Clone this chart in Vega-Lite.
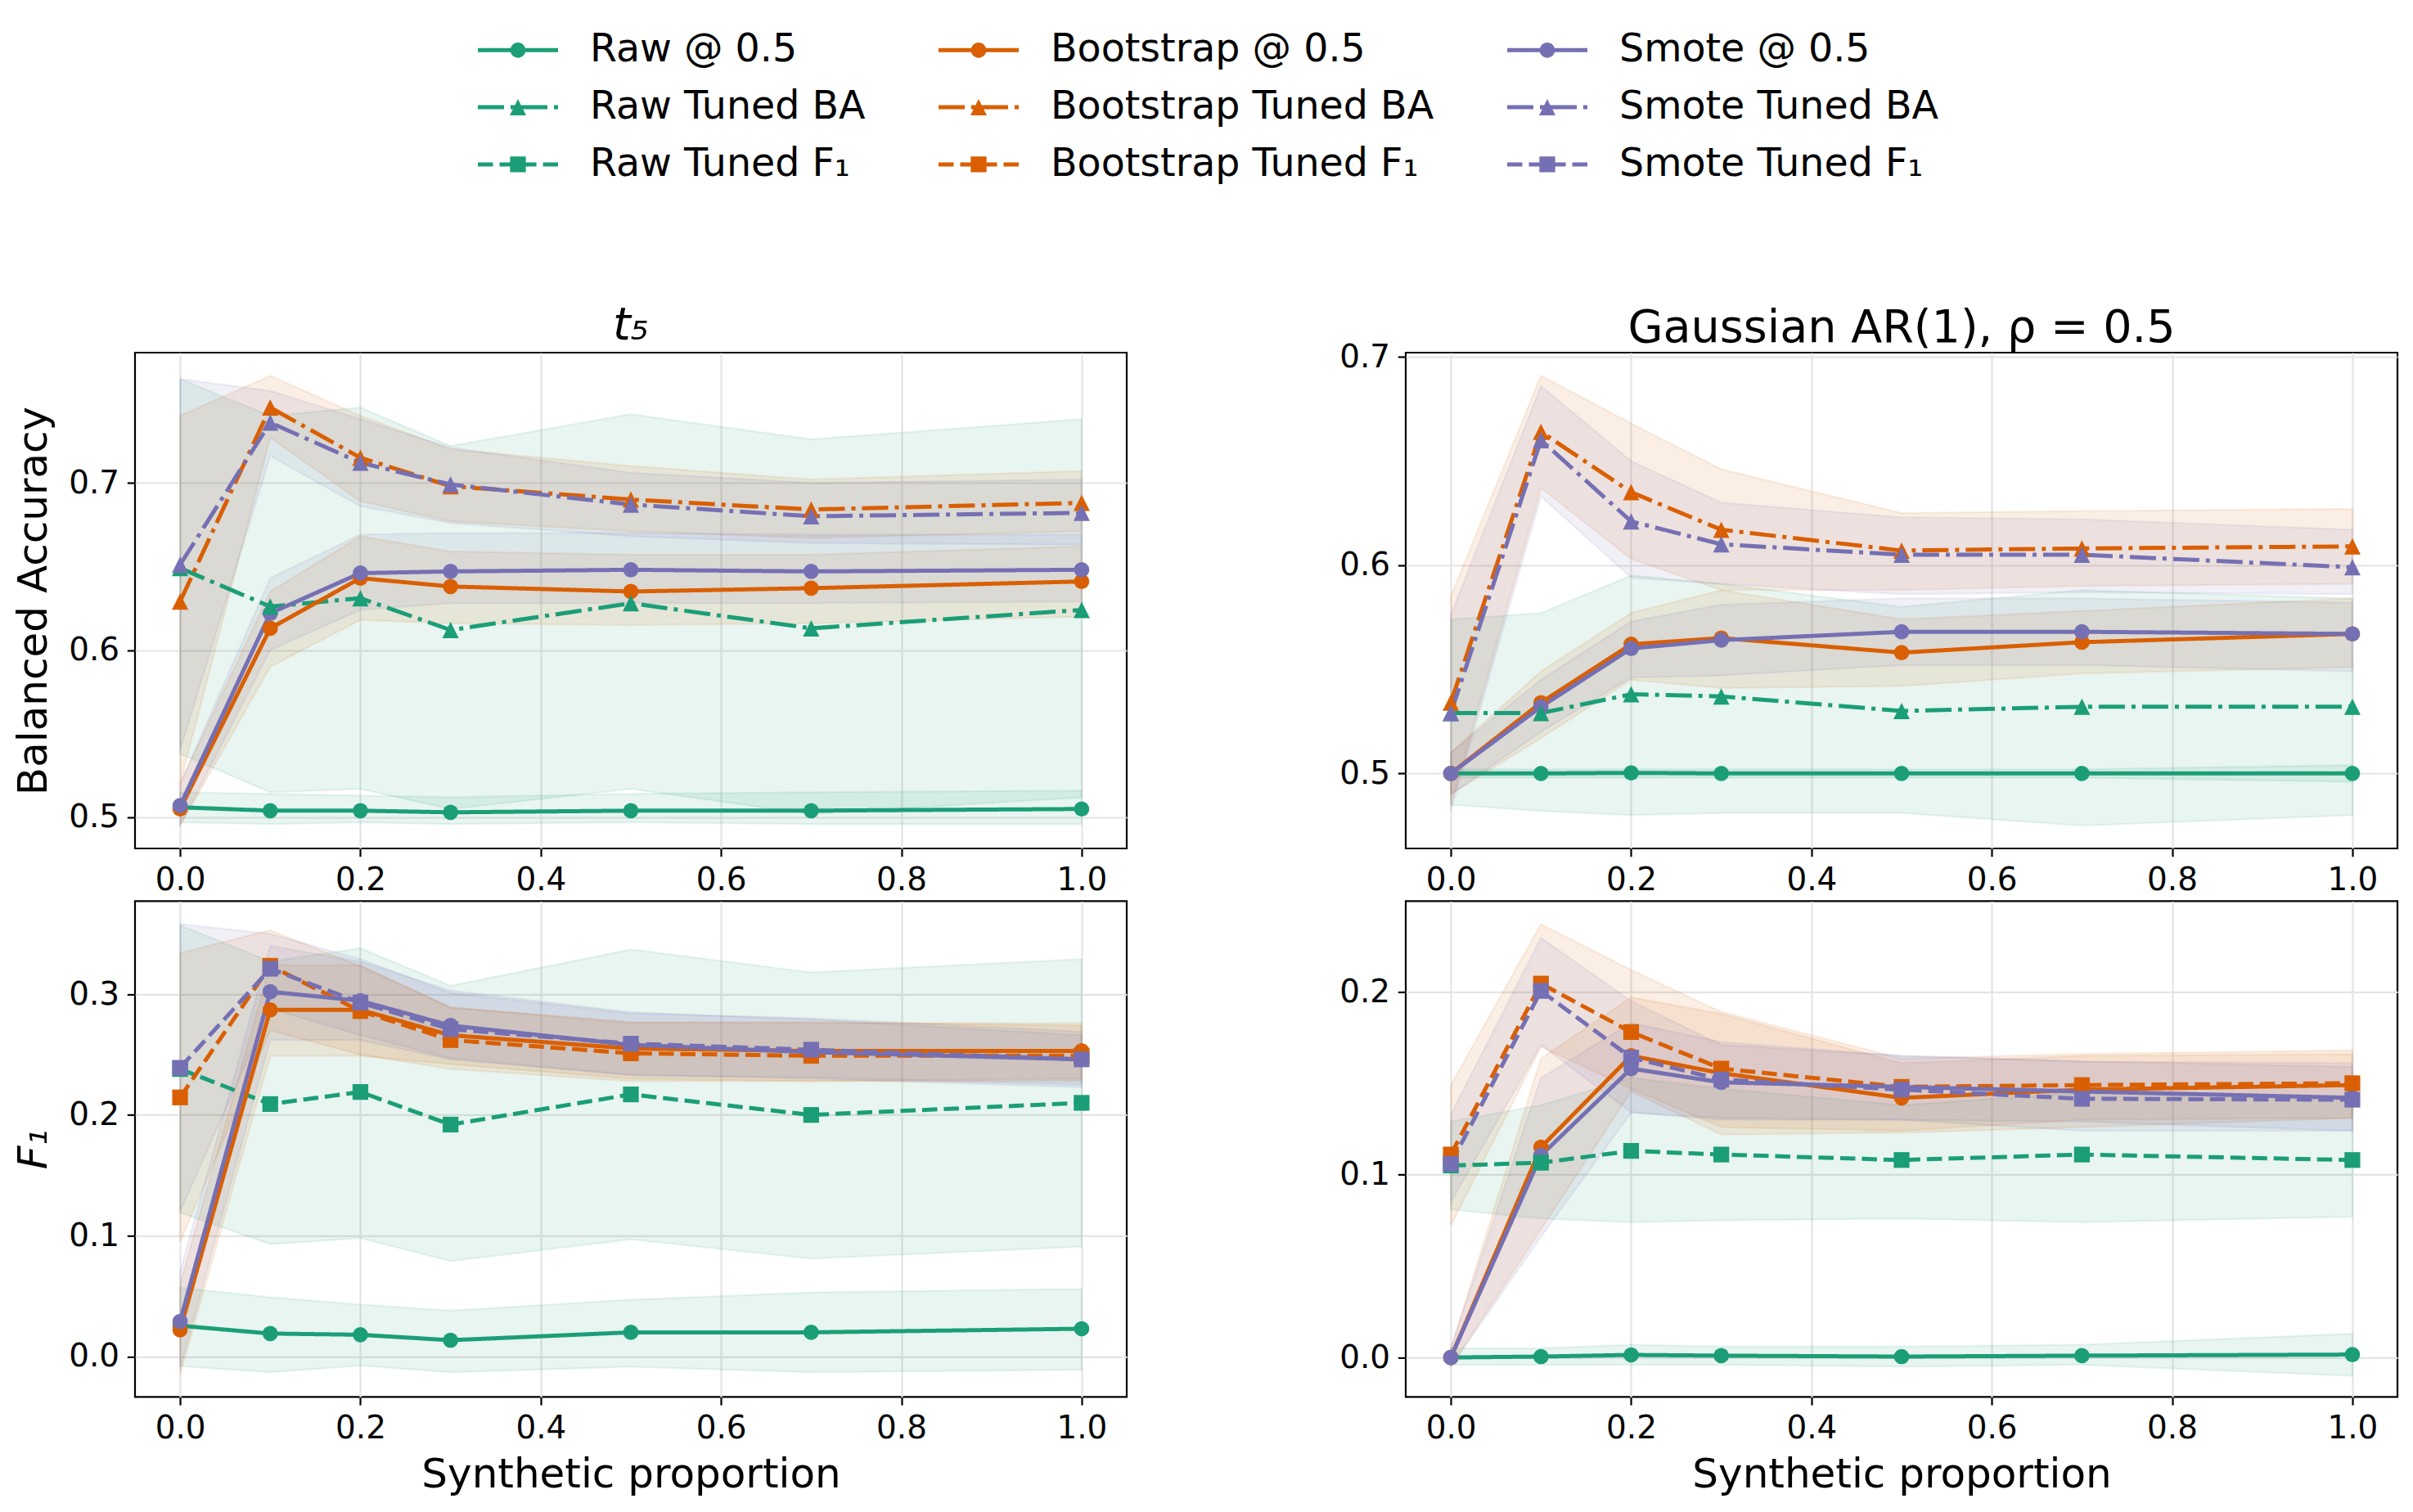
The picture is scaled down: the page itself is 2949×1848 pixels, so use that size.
{
"$schema":"https://vega.github.io/schema/vega-lite/v6.json",
"background":"white",
"padding":{"left":15,"top":26,"right":18,"bottom":12},
"datasets":{"d":[
{"p":"A","me":"Raw","v":"@ 0.5","x":0,"m":0.506,"lo":0.497,"hi":0.515},
{"p":"A","me":"Raw","v":"@ 0.5","x":0.1,"m":0.504,"lo":0.496,"hi":0.514},
{"p":"A","me":"Raw","v":"@ 0.5","x":0.2,"m":0.504,"lo":0.497,"hi":0.513},
{"p":"A","me":"Raw","v":"@ 0.5","x":0.3,"m":0.503,"lo":0.496,"hi":0.512},
{"p":"A","me":"Raw","v":"@ 0.5","x":0.5,"m":0.504,"lo":0.497,"hi":0.514},
{"p":"A","me":"Raw","v":"@ 0.5","x":0.7,"m":0.504,"lo":0.496,"hi":0.515},
{"p":"A","me":"Raw","v":"@ 0.5","x":1,"m":0.505,"lo":0.496,"hi":0.516},
{"p":"A","me":"Raw","v":"Tuned BA","x":0,"m":0.649,"lo":0.538,"hi":0.762},
{"p":"A","me":"Raw","v":"Tuned BA","x":0.1,"m":0.626,"lo":0.515,"hi":0.740},
{"p":"A","me":"Raw","v":"Tuned BA","x":0.2,"m":0.631,"lo":0.517,"hi":0.745},
{"p":"A","me":"Raw","v":"Tuned BA","x":0.3,"m":0.612,"lo":0.505,"hi":0.722},
{"p":"A","me":"Raw","v":"Tuned BA","x":0.5,"m":0.628,"lo":0.517,"hi":0.741},
{"p":"A","me":"Raw","v":"Tuned BA","x":0.7,"m":0.613,"lo":0.502,"hi":0.726},
{"p":"A","me":"Raw","v":"Tuned BA","x":1,"m":0.624,"lo":0.512,"hi":0.738},
{"p":"A","me":"Bootstrap","v":"@ 0.5","x":0,"m":0.505,"lo":0.495,"hi":0.520},
{"p":"A","me":"Bootstrap","v":"@ 0.5","x":0.1,"m":0.613,"lo":0.590,"hi":0.635},
{"p":"A","me":"Bootstrap","v":"@ 0.5","x":0.2,"m":0.643,"lo":0.618,"hi":0.668},
{"p":"A","me":"Bootstrap","v":"@ 0.5","x":0.3,"m":0.638,"lo":0.616,"hi":0.659},
{"p":"A","me":"Bootstrap","v":"@ 0.5","x":0.5,"m":0.635,"lo":0.615,"hi":0.657},
{"p":"A","me":"Bootstrap","v":"@ 0.5","x":0.7,"m":0.637,"lo":0.616,"hi":0.657},
{"p":"A","me":"Bootstrap","v":"@ 0.5","x":1,"m":0.641,"lo":0.620,"hi":0.662},
{"p":"A","me":"Bootstrap","v":"Tuned BA","x":0,"m":0.629,"lo":0.520,"hi":0.740},
{"p":"A","me":"Bootstrap","v":"Tuned BA","x":0.1,"m":0.745,"lo":0.727,"hi":0.764},
{"p":"A","me":"Bootstrap","v":"Tuned BA","x":0.2,"m":0.715,"lo":0.689,"hi":0.740},
{"p":"A","me":"Bootstrap","v":"Tuned BA","x":0.3,"m":0.698,"lo":0.677,"hi":0.720},
{"p":"A","me":"Bootstrap","v":"Tuned BA","x":0.5,"m":0.690,"lo":0.671,"hi":0.710},
{"p":"A","me":"Bootstrap","v":"Tuned BA","x":0.7,"m":0.684,"lo":0.667,"hi":0.702},
{"p":"A","me":"Bootstrap","v":"Tuned BA","x":1,"m":0.688,"lo":0.671,"hi":0.707},
{"p":"A","me":"Smote","v":"@ 0.5","x":0,"m":0.507,"lo":0.495,"hi":0.520},
{"p":"A","me":"Smote","v":"@ 0.5","x":0.1,"m":0.622,"lo":0.600,"hi":0.643},
{"p":"A","me":"Smote","v":"@ 0.5","x":0.2,"m":0.646,"lo":0.624,"hi":0.669},
{"p":"A","me":"Smote","v":"@ 0.5","x":0.3,"m":0.647,"lo":0.628,"hi":0.670},
{"p":"A","me":"Smote","v":"@ 0.5","x":0.5,"m":0.648,"lo":0.628,"hi":0.670},
{"p":"A","me":"Smote","v":"@ 0.5","x":0.7,"m":0.647,"lo":0.628,"hi":0.669},
{"p":"A","me":"Smote","v":"@ 0.5","x":1,"m":0.648,"lo":0.629,"hi":0.669},
{"p":"A","me":"Smote","v":"Tuned BA","x":0,"m":0.651,"lo":0.540,"hi":0.762},
{"p":"A","me":"Smote","v":"Tuned BA","x":0.1,"m":0.736,"lo":0.716,"hi":0.755},
{"p":"A","me":"Smote","v":"Tuned BA","x":0.2,"m":0.712,"lo":0.686,"hi":0.738},
{"p":"A","me":"Smote","v":"Tuned BA","x":0.3,"m":0.699,"lo":0.676,"hi":0.721},
{"p":"A","me":"Smote","v":"Tuned BA","x":0.5,"m":0.687,"lo":0.668,"hi":0.706},
{"p":"A","me":"Smote","v":"Tuned BA","x":0.7,"m":0.680,"lo":0.664,"hi":0.700},
{"p":"A","me":"Smote","v":"Tuned BA","x":1,"m":0.682,"lo":0.663,"hi":0.702},
{"p":"B","me":"Raw","v":"@ 0.5","x":0,"m":0.500,"lo":0.498,"hi":0.502},
{"p":"B","me":"Raw","v":"@ 0.5","x":0.1,"m":0.500,"lo":0.498,"hi":0.502},
{"p":"B","me":"Raw","v":"@ 0.5","x":0.2,"m":0.5003,"lo":0.498,"hi":0.502},
{"p":"B","me":"Raw","v":"@ 0.5","x":0.3,"m":0.500,"lo":0.498,"hi":0.502},
{"p":"B","me":"Raw","v":"@ 0.5","x":0.5,"m":0.500,"lo":0.498,"hi":0.502},
{"p":"B","me":"Raw","v":"@ 0.5","x":0.7,"m":0.500,"lo":0.498,"hi":0.502},
{"p":"B","me":"Raw","v":"@ 0.5","x":1,"m":0.500,"lo":0.496,"hi":0.504},
{"p":"B","me":"Raw","v":"Tuned BA","x":0,"m":0.529,"lo":0.485,"hi":0.574},
{"p":"B","me":"Raw","v":"Tuned BA","x":0.1,"m":0.529,"lo":0.482,"hi":0.577},
{"p":"B","me":"Raw","v":"Tuned BA","x":0.2,"m":0.538,"lo":0.480,"hi":0.595},
{"p":"B","me":"Raw","v":"Tuned BA","x":0.3,"m":0.537,"lo":0.481,"hi":0.591},
{"p":"B","me":"Raw","v":"Tuned BA","x":0.5,"m":0.530,"lo":0.481,"hi":0.580},
{"p":"B","me":"Raw","v":"Tuned BA","x":0.7,"m":0.532,"lo":0.475,"hi":0.588},
{"p":"B","me":"Raw","v":"Tuned BA","x":1,"m":0.532,"lo":0.480,"hi":0.584},
{"p":"B","me":"Bootstrap","v":"@ 0.5","x":0,"m":0.500,"lo":0.490,"hi":0.510},
{"p":"B","me":"Bootstrap","v":"@ 0.5","x":0.1,"m":0.534,"lo":0.517,"hi":0.549},
{"p":"B","me":"Bootstrap","v":"@ 0.5","x":0.2,"m":0.562,"lo":0.545,"hi":0.577},
{"p":"B","me":"Bootstrap","v":"@ 0.5","x":0.3,"m":0.565,"lo":0.541,"hi":0.588},
{"p":"B","me":"Bootstrap","v":"@ 0.5","x":0.5,"m":0.558,"lo":0.542,"hi":0.574},
{"p":"B","me":"Bootstrap","v":"@ 0.5","x":0.7,"m":0.563,"lo":0.548,"hi":0.578},
{"p":"B","me":"Bootstrap","v":"@ 0.5","x":1,"m":0.567,"lo":0.551,"hi":0.584},
{"p":"B","me":"Bootstrap","v":"Tuned BA","x":0,"m":0.534,"lo":0.485,"hi":0.585},
{"p":"B","me":"Bootstrap","v":"Tuned BA","x":0.1,"m":0.664,"lo":0.637,"hi":0.691},
{"p":"B","me":"Bootstrap","v":"Tuned BA","x":0.2,"m":0.635,"lo":0.603,"hi":0.668},
{"p":"B","me":"Bootstrap","v":"Tuned BA","x":0.3,"m":0.617,"lo":0.588,"hi":0.646},
{"p":"B","me":"Bootstrap","v":"Tuned BA","x":0.5,"m":0.607,"lo":0.588,"hi":0.625},
{"p":"B","me":"Bootstrap","v":"Tuned BA","x":0.7,"m":0.608,"lo":0.590,"hi":0.626},
{"p":"B","me":"Bootstrap","v":"Tuned BA","x":1,"m":0.609,"lo":0.591,"hi":0.627},
{"p":"B","me":"Smote","v":"@ 0.5","x":0,"m":0.500,"lo":0.490,"hi":0.510},
{"p":"B","me":"Smote","v":"@ 0.5","x":0.1,"m":0.532,"lo":0.520,"hi":0.545},
{"p":"B","me":"Smote","v":"@ 0.5","x":0.2,"m":0.560,"lo":0.546,"hi":0.573},
{"p":"B","me":"Smote","v":"@ 0.5","x":0.3,"m":0.564,"lo":0.547,"hi":0.581},
{"p":"B","me":"Smote","v":"@ 0.5","x":0.5,"m":0.568,"lo":0.552,"hi":0.584},
{"p":"B","me":"Smote","v":"@ 0.5","x":0.7,"m":0.568,"lo":0.552,"hi":0.584},
{"p":"B","me":"Smote","v":"@ 0.5","x":1,"m":0.567,"lo":0.549,"hi":0.582},
{"p":"B","me":"Smote","v":"Tuned BA","x":0,"m":0.529,"lo":0.482,"hi":0.576},
{"p":"B","me":"Smote","v":"Tuned BA","x":0.1,"m":0.660,"lo":0.633,"hi":0.686},
{"p":"B","me":"Smote","v":"Tuned BA","x":0.2,"m":0.621,"lo":0.594,"hi":0.650},
{"p":"B","me":"Smote","v":"Tuned BA","x":0.3,"m":0.610,"lo":0.591,"hi":0.630},
{"p":"B","me":"Smote","v":"Tuned BA","x":0.5,"m":0.605,"lo":0.586,"hi":0.623},
{"p":"B","me":"Smote","v":"Tuned BA","x":0.7,"m":0.605,"lo":0.587,"hi":0.622},
{"p":"B","me":"Smote","v":"Tuned BA","x":1,"m":0.599,"lo":0.586,"hi":0.617},
{"p":"C","me":"Raw","v":"@ 0.5","x":0,"m":0.0255,"lo":-0.008,"hi":0.057},
{"p":"C","me":"Raw","v":"@ 0.5","x":0.1,"m":0.019,"lo":-0.013,"hi":0.049},
{"p":"C","me":"Raw","v":"@ 0.5","x":0.2,"m":0.018,"lo":-0.0075,"hi":0.043},
{"p":"C","me":"Raw","v":"@ 0.5","x":0.3,"m":0.0135,"lo":-0.013,"hi":0.038},
{"p":"C","me":"Raw","v":"@ 0.5","x":0.5,"m":0.020,"lo":-0.0085,"hi":0.047},
{"p":"C","me":"Raw","v":"@ 0.5","x":0.7,"m":0.020,"lo":-0.013,"hi":0.053},
{"p":"C","me":"Raw","v":"@ 0.5","x":1,"m":0.023,"lo":-0.011,"hi":0.056},
{"p":"C","me":"Raw","v":"Tuned F₁","x":0,"m":0.238,"lo":0.119,"hi":0.357},
{"p":"C","me":"Raw","v":"Tuned F₁","x":0.1,"m":0.209,"lo":0.093,"hi":0.327},
{"p":"C","me":"Raw","v":"Tuned F₁","x":0.2,"m":0.219,"lo":0.098,"hi":0.338},
{"p":"C","me":"Raw","v":"Tuned F₁","x":0.3,"m":0.192,"lo":0.079,"hi":0.307},
{"p":"C","me":"Raw","v":"Tuned F₁","x":0.5,"m":0.217,"lo":0.097,"hi":0.337},
{"p":"C","me":"Raw","v":"Tuned F₁","x":0.7,"m":0.200,"lo":0.081,"hi":0.318},
{"p":"C","me":"Raw","v":"Tuned F₁","x":1,"m":0.210,"lo":0.091,"hi":0.329},
{"p":"C","me":"Bootstrap","v":"@ 0.5","x":0,"m":0.022,"lo":-0.015,"hi":0.060},
{"p":"C","me":"Bootstrap","v":"@ 0.5","x":0.1,"m":0.287,"lo":0.249,"hi":0.324},
{"p":"C","me":"Bootstrap","v":"@ 0.5","x":0.2,"m":0.287,"lo":0.249,"hi":0.324},
{"p":"C","me":"Bootstrap","v":"@ 0.5","x":0.3,"m":0.266,"lo":0.242,"hi":0.289},
{"p":"C","me":"Bootstrap","v":"@ 0.5","x":0.5,"m":0.255,"lo":0.230,"hi":0.276},
{"p":"C","me":"Bootstrap","v":"@ 0.5","x":0.7,"m":0.253,"lo":0.228,"hi":0.276},
{"p":"C","me":"Bootstrap","v":"@ 0.5","x":1,"m":0.253,"lo":0.230,"hi":0.276},
{"p":"C","me":"Bootstrap","v":"Tuned F₁","x":0,"m":0.2145,"lo":0.095,"hi":0.334},
{"p":"C","me":"Bootstrap","v":"Tuned F₁","x":0.1,"m":0.3235,"lo":0.270,"hi":0.353},
{"p":"C","me":"Bootstrap","v":"Tuned F₁","x":0.2,"m":0.286,"lo":0.250,"hi":0.323},
{"p":"C","me":"Bootstrap","v":"Tuned F₁","x":0.3,"m":0.262,"lo":0.238,"hi":0.289},
{"p":"C","me":"Bootstrap","v":"Tuned F₁","x":0.5,"m":0.251,"lo":0.228,"hi":0.277},
{"p":"C","me":"Bootstrap","v":"Tuned F₁","x":0.7,"m":0.249,"lo":0.228,"hi":0.277},
{"p":"C","me":"Bootstrap","v":"Tuned F₁","x":1,"m":0.249,"lo":0.228,"hi":0.274},
{"p":"C","me":"Smote","v":"@ 0.5","x":0,"m":0.029,"lo":-0.010,"hi":0.070},
{"p":"C","me":"Smote","v":"@ 0.5","x":0.1,"m":0.302,"lo":0.262,"hi":0.340},
{"p":"C","me":"Smote","v":"@ 0.5","x":0.2,"m":0.2945,"lo":0.262,"hi":0.327},
{"p":"C","me":"Smote","v":"@ 0.5","x":0.3,"m":0.274,"lo":0.246,"hi":0.303},
{"p":"C","me":"Smote","v":"@ 0.5","x":0.5,"m":0.258,"lo":0.233,"hi":0.285},
{"p":"C","me":"Smote","v":"@ 0.5","x":0.7,"m":0.252,"lo":0.230,"hi":0.279},
{"p":"C","me":"Smote","v":"@ 0.5","x":1,"m":0.246,"lo":0.223,"hi":0.266},
{"p":"C","me":"Smote","v":"Tuned F₁","x":0,"m":0.239,"lo":0.120,"hi":0.358},
{"p":"C","me":"Smote","v":"Tuned F₁","x":0.1,"m":0.321,"lo":0.288,"hi":0.350},
{"p":"C","me":"Smote","v":"Tuned F₁","x":0.2,"m":0.293,"lo":0.266,"hi":0.329},
{"p":"C","me":"Smote","v":"Tuned F₁","x":0.3,"m":0.271,"lo":0.247,"hi":0.301},
{"p":"C","me":"Smote","v":"Tuned F₁","x":0.5,"m":0.259,"lo":0.233,"hi":0.284},
{"p":"C","me":"Smote","v":"Tuned F₁","x":0.7,"m":0.254,"lo":0.231,"hi":0.280},
{"p":"C","me":"Smote","v":"Tuned F₁","x":1,"m":0.246,"lo":0.225,"hi":0.269},
{"p":"D","me":"Raw","v":"@ 0.5","x":0,"m":0.000,"lo":-0.004,"hi":0.005},
{"p":"D","me":"Raw","v":"@ 0.5","x":0.1,"m":0.0005,"lo":-0.004,"hi":0.005},
{"p":"D","me":"Raw","v":"@ 0.5","x":0.2,"m":0.0014,"lo":-0.004,"hi":0.007},
{"p":"D","me":"Raw","v":"@ 0.5","x":0.3,"m":0.001,"lo":-0.004,"hi":0.006},
{"p":"D","me":"Raw","v":"@ 0.5","x":0.5,"m":0.0005,"lo":-0.005,"hi":0.006},
{"p":"D","me":"Raw","v":"@ 0.5","x":0.7,"m":0.001,"lo":-0.004,"hi":0.007},
{"p":"D","me":"Raw","v":"@ 0.5","x":1,"m":0.0016,"lo":-0.010,"hi":0.013},
{"p":"D","me":"Raw","v":"Tuned F₁","x":0,"m":0.105,"lo":0.081,"hi":0.129},
{"p":"D","me":"Raw","v":"Tuned F₁","x":0.1,"m":0.1065,"lo":0.076,"hi":0.138},
{"p":"D","me":"Raw","v":"Tuned F₁","x":0.2,"m":0.113,"lo":0.074,"hi":0.153},
{"p":"D","me":"Raw","v":"Tuned F₁","x":0.3,"m":0.111,"lo":0.075,"hi":0.147},
{"p":"D","me":"Raw","v":"Tuned F₁","x":0.5,"m":0.108,"lo":0.076,"hi":0.138},
{"p":"D","me":"Raw","v":"Tuned F₁","x":0.7,"m":0.111,"lo":0.074,"hi":0.145},
{"p":"D","me":"Raw","v":"Tuned F₁","x":1,"m":0.108,"lo":0.077,"hi":0.143},
{"p":"D","me":"Bootstrap","v":"@ 0.5","x":0,"m":0.000,"lo":-0.005,"hi":0.005},
{"p":"D","me":"Bootstrap","v":"@ 0.5","x":0.1,"m":0.115,"lo":0.070,"hi":0.1635},
{"p":"D","me":"Bootstrap","v":"@ 0.5","x":0.2,"m":0.165,"lo":0.1455,"hi":0.197},
{"p":"D","me":"Bootstrap","v":"@ 0.5","x":0.3,"m":0.1555,"lo":0.122,"hi":0.188},
{"p":"D","me":"Bootstrap","v":"@ 0.5","x":0.5,"m":0.142,"lo":0.123,"hi":0.161},
{"p":"D","me":"Bootstrap","v":"@ 0.5","x":0.7,"m":0.1465,"lo":0.126,"hi":0.165},
{"p":"D","me":"Bootstrap","v":"@ 0.5","x":1,"m":0.149,"lo":0.131,"hi":0.166},
{"p":"D","me":"Bootstrap","v":"Tuned F₁","x":0,"m":0.111,"lo":0.072,"hi":0.149},
{"p":"D","me":"Bootstrap","v":"Tuned F₁","x":0.1,"m":0.2045,"lo":0.170,"hi":0.237},
{"p":"D","me":"Bootstrap","v":"Tuned F₁","x":0.2,"m":0.178,"lo":0.147,"hi":0.212},
{"p":"D","me":"Bootstrap","v":"Tuned F₁","x":0.3,"m":0.158,"lo":0.126,"hi":0.189},
{"p":"D","me":"Bootstrap","v":"Tuned F₁","x":0.5,"m":0.148,"lo":0.124,"hi":0.1635},
{"p":"D","me":"Bootstrap","v":"Tuned F₁","x":0.7,"m":0.149,"lo":0.130,"hi":0.166},
{"p":"D","me":"Bootstrap","v":"Tuned F₁","x":1,"m":0.150,"lo":0.131,"hi":0.168},
{"p":"D","me":"Smote","v":"@ 0.5","x":0,"m":0.000,"lo":-0.005,"hi":0.005},
{"p":"D","me":"Smote","v":"@ 0.5","x":0.1,"m":0.1105,"lo":0.066,"hi":0.153},
{"p":"D","me":"Smote","v":"@ 0.5","x":0.2,"m":0.158,"lo":0.134,"hi":0.183},
{"p":"D","me":"Smote","v":"@ 0.5","x":0.3,"m":0.1505,"lo":0.131,"hi":0.1725},
{"p":"D","me":"Smote","v":"@ 0.5","x":0.5,"m":0.148,"lo":0.130,"hi":0.165},
{"p":"D","me":"Smote","v":"@ 0.5","x":0.7,"m":0.1455,"lo":0.129,"hi":0.162},
{"p":"D","me":"Smote","v":"@ 0.5","x":1,"m":0.142,"lo":0.124,"hi":0.159},
{"p":"D","me":"Smote","v":"Tuned F₁","x":0,"m":0.106,"lo":0.085,"hi":0.133},
{"p":"D","me":"Smote","v":"Tuned F₁","x":0.1,"m":0.2005,"lo":0.171,"hi":0.2295},
{"p":"D","me":"Smote","v":"Tuned F₁","x":0.2,"m":0.164,"lo":0.134,"hi":0.195},
{"p":"D","me":"Smote","v":"Tuned F₁","x":0.3,"m":0.152,"lo":0.130,"hi":0.171},
{"p":"D","me":"Smote","v":"Tuned F₁","x":0.5,"m":0.1465,"lo":0.130,"hi":0.165},
{"p":"D","me":"Smote","v":"Tuned F₁","x":0.7,"m":0.1415,"lo":0.124,"hi":0.162},
{"p":"D","me":"Smote","v":"Tuned F₁","x":1,"m":0.141,"lo":0.124,"hi":0.161}
]},
"data":{"name":"d"},
"columns":2,
"spacing":{"row":64.4,"column":341},
"bounds":"flush",
"concat":[
{
"width":1212,"height":606,
"title":{"text":"t₅","fontStyle":"italic","offset":4},
"transform":[{"filter":"datum.p == 'A'"}],
"encoding":{
 "x":{"field":"x","type":"quantitative","scale":{"domain":[-0.05,1.05],"nice":false,"zero":false},"axis":{"values":[0,0.2,0.4,0.6,0.8,1],"format":".1f","title":null}},
 "y":{"field":"m","type":"quantitative","scale":{"domain":[0.4814,0.7778],"nice":false,"zero":false},"axis":{"values":[0.5,0.6,0.7],"format":".1f","title":"Balanced Accuracy","titlePadding":17}},
 "color":{"field":"me","type":"nominal","scale":{"domain":["Raw","Bootstrap","Smote"],"range":["#1b9e77","#d95f02","#7570b3"]},"legend":null}
},
"layer":[
 {"mark":{"type":"area","fillOpacity":0.1,"strokeOpacity":0.1,"strokeWidth":2.2},
  "encoding":{"y":{"field":"lo","type":"quantitative","scale":{"domain":[0.4814,0.7778],"nice":false,"zero":false},"axis":{"values":[0.5,0.6,0.7],"format":".1f","title":"Balanced Accuracy","titlePadding":17}},"y2":{"field":"hi"},
  "stroke":{"field":"me","type":"nominal","scale":{"domain":["Raw","Bootstrap","Smote"],"range":["#1b9e77","#d95f02","#7570b3"]},"legend":null},"detail":{"field":"v"}}},
 {"mark":{"type":"line","strokeWidth":5},"encoding":{"strokeDash":{"field":"v","type":"nominal","scale":{"domain":["@ 0.5","Tuned BA","Tuned F₁"],"range":[[1,0],[32,8,5,8],[18.5,8]]},"legend":null}}},
 {"transform":[{"filter":"datum.v == '@ 0.5'"}],"mark":{"type":"point","shape":"circle","filled":true,"size":350,"opacity":1}},
 {"transform":[{"filter":"datum.v == 'Tuned BA'"}],"mark":{"type":"point","shape":"M0,-1L1,1L-1,1Z","filled":true,"size":400,"opacity":1}},
 {"data":{"values":[{"p":"A","s":"Raw @ 0.5"},{"p":"A","s":"Raw Tuned BA"},{"p":"A","s":"Raw Tuned F₁"},{"p":"A","s":"Bootstrap @ 0.5"},{"p":"A","s":"Bootstrap Tuned BA"},{"p":"A","s":"Bootstrap Tuned F₁"},{"p":"A","s":"Smote @ 0.5"},{"p":"A","s":"Smote Tuned BA"},{"p":"A","s":"Smote Tuned F₁"}]},
  "mark":{"type":"point","filled":true,"strokeWidth":0},
  "encoding":{
   "shape":{"field":"s","type":"nominal",
    "scale":{"domain":["Raw @ 0.5","Raw Tuned BA","Raw Tuned F₁","Bootstrap @ 0.5","Bootstrap Tuned BA","Bootstrap Tuned F₁","Smote @ 0.5","Smote Tuned BA","Smote Tuned F₁"],
     "range":[
      "M-1,-0.051H1V0.051H-1Z M-0.191,0A0.191,0.191 0 1,1 0.191,0A0.191,0.191 0 1,1 -0.191,0Z",
      "M-1,-0.051H-0.347V0.051H-1Z M-0.184,-0.051H-0.082V0.051H-0.184Z M0.081,-0.051H0.734V0.051H0.081Z M0.897,-0.051H1V0.051H0.897Z M0,-0.204L0.204,0.204H-0.204Z",
      "M-1,-0.051H-0.622V0.051H-1Z M-0.459,-0.051H-0.081V0.051H-0.459Z M0.082,-0.051H0.46V0.051H0.082Z M0.623,-0.051H1V0.051H0.623Z M-0.197,-0.197H0.197V0.197H-0.197Z",
      "M-1,-0.051H1V0.051H-1Z M-0.191,0A0.191,0.191 0 1,1 0.191,0A0.191,0.191 0 1,1 -0.191,0Z",
      "M-1,-0.051H-0.347V0.051H-1Z M-0.184,-0.051H-0.082V0.051H-0.184Z M0.081,-0.051H0.734V0.051H0.081Z M0.897,-0.051H1V0.051H0.897Z M0,-0.204L0.204,0.204H-0.204Z",
      "M-1,-0.051H-0.622V0.051H-1Z M-0.459,-0.051H-0.081V0.051H-0.459Z M0.082,-0.051H0.46V0.051H0.082Z M0.623,-0.051H1V0.051H0.623Z M-0.197,-0.197H0.197V0.197H-0.197Z",
      "M-1,-0.051H1V0.051H-1Z M-0.191,0A0.191,0.191 0 1,1 0.191,0A0.191,0.191 0 1,1 -0.191,0Z",
      "M-1,-0.051H-0.347V0.051H-1Z M-0.184,-0.051H-0.082V0.051H-0.184Z M0.081,-0.051H0.734V0.051H0.081Z M0.897,-0.051H1V0.051H0.897Z M0,-0.204L0.204,0.204H-0.204Z",
      "M-1,-0.051H-0.622V0.051H-1Z M-0.459,-0.051H-0.081V0.051H-0.459Z M0.082,-0.051H0.46V0.051H0.082Z M0.623,-0.051H1V0.051H0.623Z M-0.197,-0.197H0.197V0.197H-0.197Z"]},
    "legend":{"title":null,"orient":"none","legendX":419,"legendY":-404.7,"columns":3,"columnPadding":89,"rowPadding":0,"clipHeight":69.3,"padding":0,
     "symbolSize":9604,"symbolStrokeWidth":0,"symbolOpacity":1,"labelFont":"DejaVu Sans","labelFontSize":47.5,"labelColor":"black","labelOffset":39,"labelLimit":2000}},
   "fill":{"field":"s","type":"nominal",
    "scale":{"domain":["Raw @ 0.5","Raw Tuned BA","Raw Tuned F₁","Bootstrap @ 0.5","Bootstrap Tuned BA","Bootstrap Tuned F₁","Smote @ 0.5","Smote Tuned BA","Smote Tuned F₁"],
     "range":["#1b9e77","#1b9e77","#1b9e77","#d95f02","#d95f02","#d95f02","#7570b3","#7570b3","#7570b3"]},
    "legend":{"title":null,"orient":"none","legendX":419,"legendY":-404.7,"columns":3,"columnPadding":89,"rowPadding":0,"clipHeight":69.3,"padding":0,
     "symbolSize":9604,"symbolStrokeWidth":0,"symbolOpacity":1,"labelFont":"DejaVu Sans","labelFontSize":47.5,"labelColor":"black","labelOffset":39,"labelLimit":2000}}}}
]
},
{
"width":1212,"height":606,
"title":{"text":"Gaussian AR(1), ρ = 0.5","offset":-13},
"transform":[{"filter":"datum.p == 'B'"}],
"encoding":{
 "x":{"field":"x","type":"quantitative","scale":{"domain":[-0.05,1.05],"nice":false,"zero":false},"axis":{"values":[0,0.2,0.4,0.6,0.8,1],"format":".1f","title":null}},
 "y":{"field":"m","type":"quantitative","scale":{"domain":[0.464,0.702],"nice":false,"zero":false},"axis":{"values":[0.5,0.6,0.7],"format":".1f","title":null}},
 "color":{"field":"me","type":"nominal","scale":{"domain":["Raw","Bootstrap","Smote"],"range":["#1b9e77","#d95f02","#7570b3"]},"legend":null}
},
"layer":[
 {"mark":{"type":"area","fillOpacity":0.1,"strokeOpacity":0.1,"strokeWidth":2.2},
  "encoding":{"y":{"field":"lo","type":"quantitative","scale":{"domain":[0.464,0.702],"nice":false,"zero":false},"axis":{"values":[0.5,0.6,0.7],"format":".1f","title":null}},"y2":{"field":"hi"},
  "stroke":{"field":"me","type":"nominal","scale":{"domain":["Raw","Bootstrap","Smote"],"range":["#1b9e77","#d95f02","#7570b3"]},"legend":null},"detail":{"field":"v"}}},
 {"mark":{"type":"line","strokeWidth":5},"encoding":{"strokeDash":{"field":"v","type":"nominal","scale":{"domain":["@ 0.5","Tuned BA","Tuned F₁"],"range":[[1,0],[32,8,5,8],[18.5,8]]},"legend":null}}},
 {"transform":[{"filter":"datum.v == '@ 0.5'"}],"mark":{"type":"point","shape":"circle","filled":true,"size":350,"opacity":1}},
 {"transform":[{"filter":"datum.v == 'Tuned BA'"}],"mark":{"type":"point","shape":"M0,-1L1,1L-1,1Z","filled":true,"size":400,"opacity":1}}
]
},
{
"width":1212,"height":606,
"transform":[{"filter":"datum.p == 'C'"}],
"encoding":{
 "x":{"field":"x","type":"quantitative","scale":{"domain":[-0.05,1.05],"nice":false,"zero":false},"axis":{"values":[0,0.2,0.4,0.6,0.8,1],"format":".1f","title":"Synthetic proportion","titlePadding":12}},
 "y":{"field":"m","type":"quantitative","scale":{"domain":[-0.0335,0.377],"nice":false,"zero":false},"axis":{"values":[0,0.1,0.2,0.3],"format":".1f","title":"F₁","titleFontStyle":"italic","titlePadding":17}},
 "color":{"field":"me","type":"nominal","scale":{"domain":["Raw","Bootstrap","Smote"],"range":["#1b9e77","#d95f02","#7570b3"]},"legend":null}
},
"layer":[
 {"mark":{"type":"area","fillOpacity":0.1,"strokeOpacity":0.1,"strokeWidth":2.2},
  "encoding":{"y":{"field":"lo","type":"quantitative","scale":{"domain":[-0.0335,0.377],"nice":false,"zero":false},"axis":{"values":[0,0.1,0.2,0.3],"format":".1f","title":"F₁","titleFontStyle":"italic","titlePadding":17}},"y2":{"field":"hi"},
  "stroke":{"field":"me","type":"nominal","scale":{"domain":["Raw","Bootstrap","Smote"],"range":["#1b9e77","#d95f02","#7570b3"]},"legend":null},"detail":{"field":"v"}}},
 {"mark":{"type":"line","strokeWidth":5},"encoding":{"strokeDash":{"field":"v","type":"nominal","scale":{"domain":["@ 0.5","Tuned BA","Tuned F₁"],"range":[[1,0],[32,8,5,8],[18.5,8]]},"legend":null}}},
 {"transform":[{"filter":"datum.v == '@ 0.5'"}],"mark":{"type":"point","shape":"circle","filled":true,"size":350,"opacity":1}},
 {"transform":[{"filter":"datum.v == 'Tuned F₁'"}],"mark":{"type":"point","shape":"square","filled":true,"size":370,"opacity":1}}
]
},
{
"width":1212,"height":606,
"transform":[{"filter":"datum.p == 'D'"}],
"encoding":{
 "x":{"field":"x","type":"quantitative","scale":{"domain":[-0.05,1.05],"nice":false,"zero":false},"axis":{"values":[0,0.2,0.4,0.6,0.8,1],"format":".1f","title":"Synthetic proportion","titlePadding":12}},
 "y":{"field":"m","type":"quantitative","scale":{"domain":[-0.0216,0.2496],"nice":false,"zero":false},"axis":{"values":[0,0.1,0.2],"format":".1f","title":null}},
 "color":{"field":"me","type":"nominal","scale":{"domain":["Raw","Bootstrap","Smote"],"range":["#1b9e77","#d95f02","#7570b3"]},"legend":null}
},
"layer":[
 {"mark":{"type":"area","fillOpacity":0.1,"strokeOpacity":0.1,"strokeWidth":2.2},
  "encoding":{"y":{"field":"lo","type":"quantitative","scale":{"domain":[-0.0216,0.2496],"nice":false,"zero":false},"axis":{"values":[0,0.1,0.2],"format":".1f","title":null}},"y2":{"field":"hi"},
  "stroke":{"field":"me","type":"nominal","scale":{"domain":["Raw","Bootstrap","Smote"],"range":["#1b9e77","#d95f02","#7570b3"]},"legend":null},"detail":{"field":"v"}}},
 {"mark":{"type":"line","strokeWidth":5},"encoding":{"strokeDash":{"field":"v","type":"nominal","scale":{"domain":["@ 0.5","Tuned BA","Tuned F₁"],"range":[[1,0],[32,8,5,8],[18.5,8]]},"legend":null}}},
 {"transform":[{"filter":"datum.v == '@ 0.5'"}],"mark":{"type":"point","shape":"circle","filled":true,"size":350,"opacity":1}},
 {"transform":[{"filter":"datum.v == 'Tuned F₁'"}],"mark":{"type":"point","shape":"square","filled":true,"size":370,"opacity":1}}
]
}
],
"config":{
 "font":"DejaVu Sans",
 "view":{"stroke":"black","strokeWidth":2.2},
 "axis":{"labelFont":"DejaVu Sans","labelFontSize":38.9,"labelColor":"black","titleFont":"DejaVu Sans","titleFontSize":50,"titleFontWeight":"normal","titleColor":"black","tickColor":"black","tickSize":9.7,"tickWidth":2.2,"labelPadding":9.7,"domain":false,"grid":true,"gridColor":"#e4e4e4","gridWidth":2.2,"labelFlush":false,"labelOverlap":false,"titlePadding":6},
 "title":{"font":"DejaVu Sans","fontSize":55.6,"fontWeight":"normal","color":"black","offset":17,"baseline":"alphabetic","anchor":"middle","frame":"group"}
}
}
